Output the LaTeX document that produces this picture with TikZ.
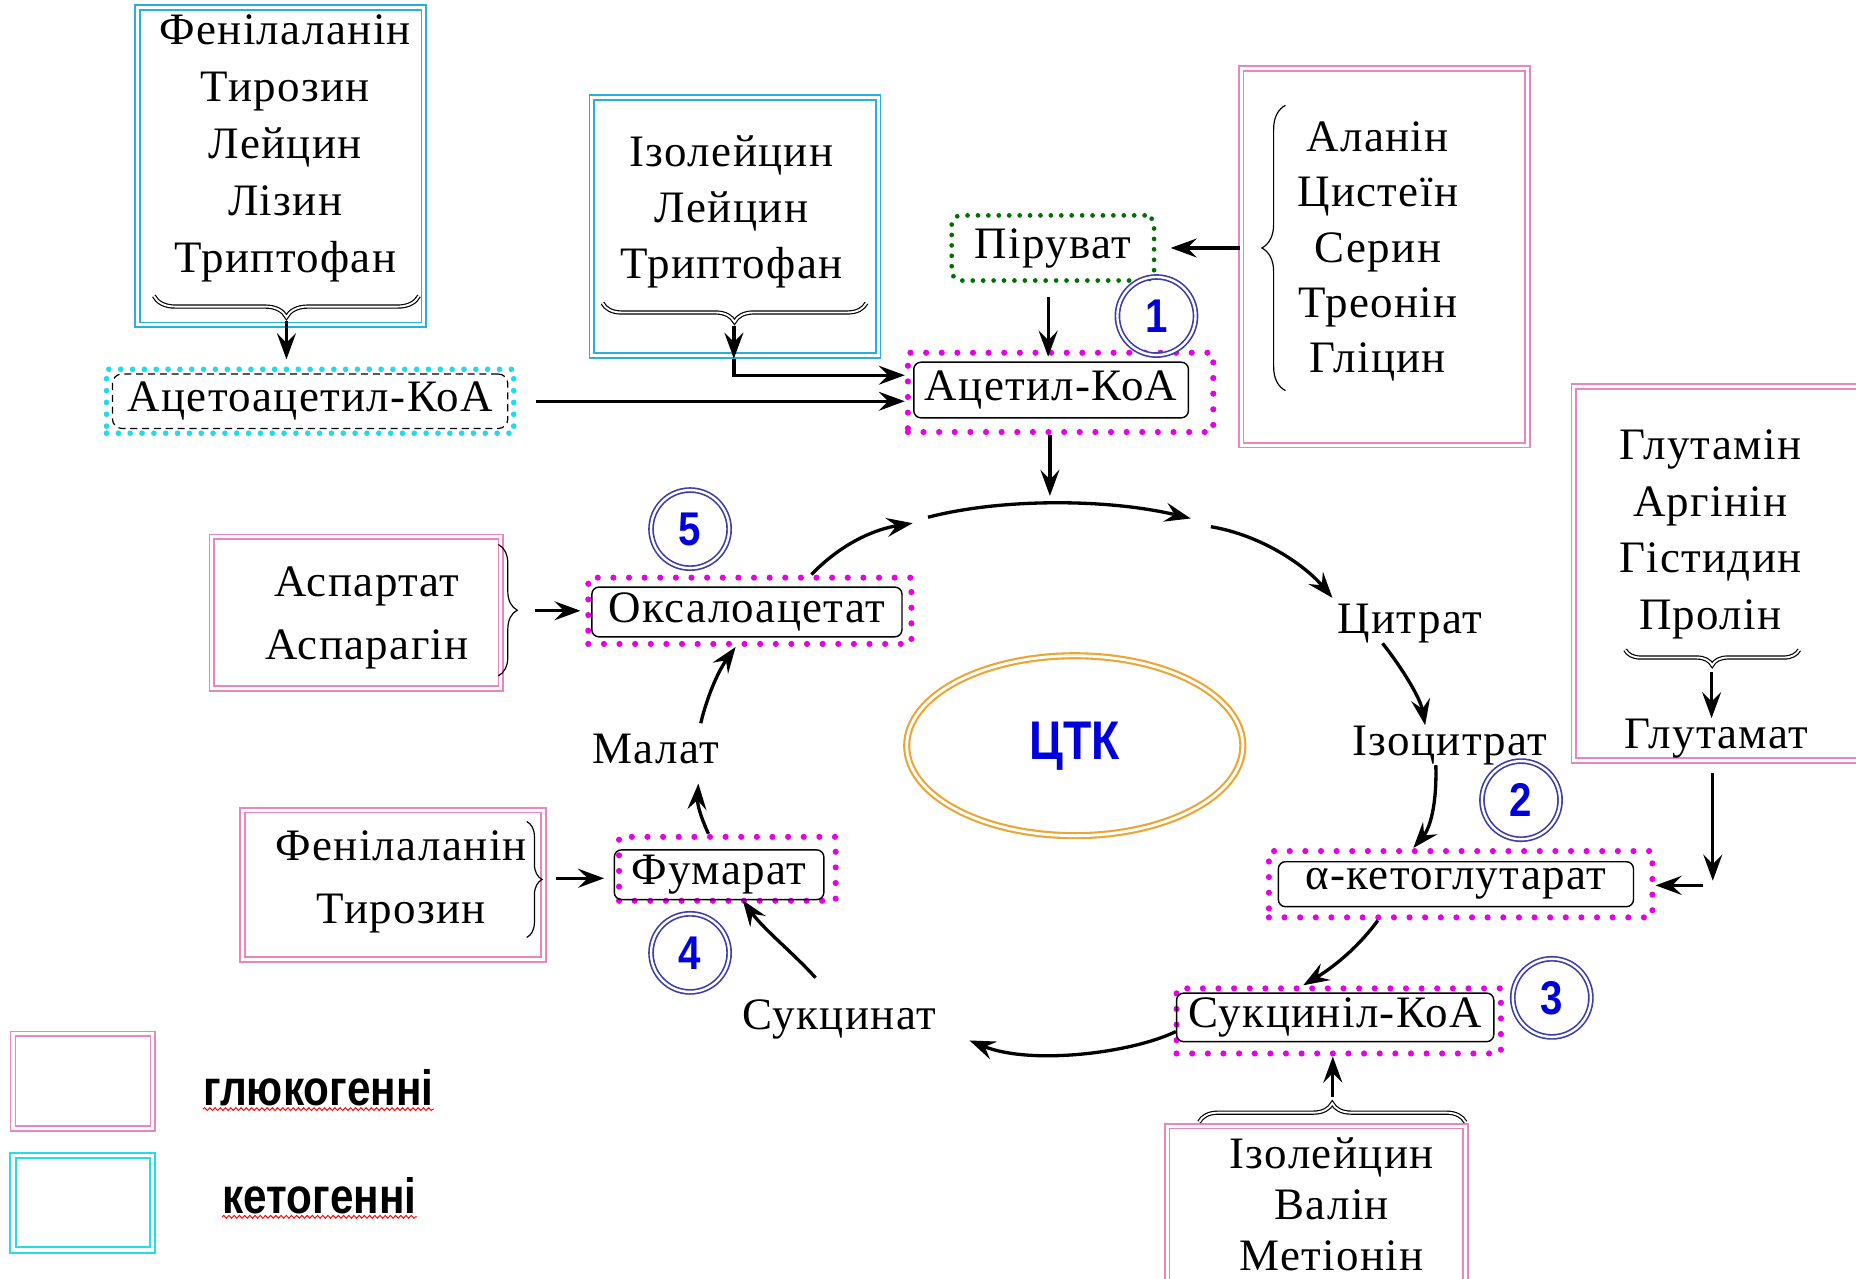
\documentclass[tikz,border=0pt]{standalone}
\usepackage{fontspec}
\newfontfamily\lblfont[LetterSpace=3]{Liberation Serif}
\newfontfamily\legfont[FakeStretch=0.85]{Liberation Sans}
\usetikzlibrary{arrows.meta}
\usetikzlibrary{decorations.pathreplacing,decorations.pathmorphing}
\usetikzlibrary{shapes.geometric}
\definecolor{pinkline}{RGB}{232,135,190}
\definecolor{ketoline}{RGB}{40,175,220}
\definecolor{legcyan}{RGB}{40,220,230}
\definecolor{dotmag}{RGB}{230,0,230}
\definecolor{dotgreen}{RGB}{0,110,0}
\definecolor{dotcyan}{RGB}{30,220,235}
\definecolor{ringorange}{RGB}{235,165,50}
\definecolor{circblue}{RGB}{60,60,170}
\definecolor{numblue}{RGB}{0,0,220}
\tikzset{amino/.style={anchor=base, inner sep=0pt,
font=\lblfont\fontsize{19pt}{24pt}\selectfont}}
\tikzset{metab/.style={rectangle, rounded corners=3pt, draw=black, line width=0.6pt,
inner sep=0pt, font=\lblfont\fontsize{19pt}{24pt}\selectfont}}
\tikzset{metabframe/.style={rectangle, draw=dotmag, line width=2.6pt,
line cap=round, dash pattern=on 0pt off 6.6pt}}
\tikzset{pyrbox/.style={rectangle, rounded corners=4pt, draw=dotgreen, line width=2pt,
line cap=round, dash pattern=on 0pt off 4.4pt, inner sep=0pt,
font=\lblfont\fontsize{19pt}{24pt}\selectfont}}
\tikzset{acacbox/.style={rectangle, rounded corners=4pt, draw=black, line width=0.5pt,
dash pattern=on 3pt off 2pt, inner sep=0pt, font=\lblfont\fontsize{19pt}{24pt}\selectfont}}
\tikzset{acacframe/.style={rectangle, draw=dotcyan, line width=2.4pt,
line cap=round, dash pattern=on 0pt off 5pt}}
\tikzset{glucobox/.style={rectangle, draw=pinkline, double=white, double distance=1.3pt, line width=0.7pt}}
\tikzset{ketobox/.style={rectangle, draw=ketoline, double=white, double distance=1.3pt, line width=0.7pt}}
\tikzset{legketo/.style={rectangle, draw=legcyan, double=white, double distance=1.3pt, line width=0.9pt}}
\tikzset{stage/.style={circle, draw=circblue, double=white, double distance=1pt, line width=0.7pt,
minimum size=33pt, inner sep=0pt, text=numblue, font=\legfont\bfseries\fontsize{20pt}{20pt}\selectfont}}
\tikzset{curly/.style={decorate, decoration={brace, amplitude=#1}, line width=0.5pt}}
\tikzset{hollowcurly/.style={curly=#1, double=white, double distance=0.8pt}}
\tikzset{arr/.style={line width=1.4pt, -{Stealth[length=11pt, width=8pt, inset=4pt]}}}
\tikzset{legend/.style={anchor=base, inner sep=0pt, font=\legfont\bfseries\fontsize{21pt}{24pt}\selectfont}}
\tikzset{spellmark/.style={draw=red, line width=0.4pt, decorate,
decoration={snake, amplitude=0.6pt, segment length=2.2pt}}}

\begin{document}
\begin{tikzpicture}[x=0.5pt, y=-0.5pt]
        \clip (0,0) rectangle (1568,1080);

        \node[ketobox, minimum width=121pt, minimum height=134pt] (ketoAbox) at (237,140.5) {};
        \foreach \t [count=\i] in {Фенілаланін,Тирозин,Лейцин,Лізин,Триптофан}
            \node[amino] (ketoA\i) at (241,{38+48*(\i-1)}) {\t};
        \draw[hollowcurly=9pt] (354,250) -- (130,250);
        \coordinate (ketoAtip) at (242,271);

        \node[ketobox, minimum width=121pt, minimum height=109pt] (ketoBbox) at (621,191.5) {};
        \foreach \t [count=\i] in {Ізолейцин,Лейцин,Триптофан}
            \node[amino] (ketoB\i) at (618,{141+47*(\i-1)}) {\t};
        \draw[hollowcurly=8pt] (732,256) -- (509,256);
        \coordinate (ketoBtip) at (620,275);
        \coordinate (ketoBend) at (620,303);
        \coordinate (ketoBknee) at (620,317);

        \node[acacframe, minimum width=172pt, minimum height=27pt] (acacframe) at (262,339) {};
        \node[acacbox, minimum width=167pt, minimum height=23pt] (acac) at (262,339) {Ацетоацетил-КоА};

        \node[metabframe, minimum width=129pt, minimum height=33.5pt] (acetylframe) at (896,331.5) {};
        \node[metab, minimum width=116pt, minimum height=23.5pt] (acetyl) at (888,329.5) {Ацетил-КоА};

        \node[pyrbox, minimum width=85.5pt, minimum height=27.5pt] (pyr) at (889.5,209.5) {Піруват};

        \node[glucobox, minimum width=121pt, minimum height=159pt] (alabox) at (1169.5,217) {};
        \foreach \t [count=\i] in {Аланін,Цистеїн,Серин,Треонін,Гліцин}
            \node[amino] (ala\i) at (1164,{128+46.75*(\i-1)}) {\t};
        \draw[curly=10pt] (1086,330) -- (1086,89);

        \node[glucobox, minimum width=134pt, minimum height=158pt] (glnbox) at (1463.5,484.5) {};
        \foreach \t [count=\i] in {Глутамін,Аргінін,Гістидин,Пролін}
            \node[amino] (gln\i) at (1445,{388+48*(\i-1)}) {\t};
        \draw[hollowcurly=6.5pt] (1520,549) -- (1373,549);
        \coordinate (glntip) at (1446,564);
        \node[amino] (glu) at (1450,632) {Глутамат};
        \coordinate (gluknee) at (1447,748);

        \node[glucobox, minimum width=122pt, minimum height=64pt] (aspbox) at (301,517.5) {};
        \foreach \t [count=\i] in {Аспартат,Аспарагін}
            \node[amino] (asp\i) at (310,{504+53*(\i-1)}) {\t};
        \draw[curly=8pt] (421,460) -- (421,571);
        \coordinate (asptip) at (440,516);

        \node[glucobox, minimum width=127pt, minimum height=63pt] (phebox) at (332,747.5) {};
        \foreach \t [count=\i] in {Фенілаланін,Тирозин}
            \node[amino] (phe\i) at (339,{727+53*(\i-1)}) {\t};
        \draw[curly=6.5pt] (445,694) -- (445,792);
        \coordinate (phetip) at (460,742);

        \node[glucobox, minimum width=126pt, minimum height=73pt] (botbox) at (1112,1024.5) {};
        \foreach \t [count=\i] in {Ізолейцин,Валін,Метіонін}
            \node[amino] (bot\i) at (1125,{987+43*(\i-1)}) {\t};
        \draw[hollowcurly=8pt] (1013,948) -- (1238,948);
        \coordinate (bottip) at (1126,929);

        \node[metabframe, minimum width=136.5pt, minimum height=28pt] (oxaframe) at (633.5,516) {};
        \node[metab, minimum width=131pt, minimum height=21pt] (oxa) at (631,517) {Оксалоацетат};
        \node[metabframe, minimum width=91.5pt, minimum height=27pt] (fumframe) at (614.5,734) {};
        \node[metab, minimum width=88.5pt, minimum height=21pt] (fum) at (607.5,739) {Фумарат};
        \node[metabframe, minimum width=162pt, minimum height=28pt] (akgframe) at (1234,747) {};
        \node[metab, minimum width=150pt, minimum height=19pt] (akg) at (1230,747) {α-кетоглутарат};
        \node[metabframe, minimum width=137pt, minimum height=27.5pt] (sucframe) at (1131,862.5) {};
        \node[metab, minimum width=134pt, minimum height=20.5pt] (suc) at (1128,859.5) {Сукциніл-КоА};

        \node[amino] (citrate) at (1191,535) {Цитрат};
        \node[amino] (isocit) at (1225,638) {Ізоцитрат};
        \node[amino] (malate) at (554,645) {Малат};
        \node[amino] (succinate) at (709,870) {Сукцинат};

        \node[ellipse, draw=ringorange, double=white, double distance=1.2pt, line width=0.9pt,
            minimum width=142pt, minimum height=76pt, text=numblue,
            font=\legfont\bfseries\fontsize{23pt}{23pt}\selectfont] (ctk) at (908,630) {ЦТК};

        \node[stage] (stage1) at (977,267) {1};
        \node[stage] (stage2) at (1285,676) {2};
        \node[stage] (stage3) at (1311,843) {3};
        \node[stage] (stage4) at (583,805) {4};
        \node[stage] (stage5) at (583,447) {5};

        \coordinate (cyctop) at (887,419);
        \coordinate (cycA) at (771,442);
        \coordinate (cycB1) at (784,437);
        \coordinate (cycB2) at (1006,438);
        \coordinate (cycC1) at (1023,445);
        \coordinate (cycH) at (689,826);
        \coordinate (cycI) at (590,662);
        \coordinate (cycJ) at (592,611);
        \coordinate (sucarrow) at (819,879);

        \draw[arr, shorten >=3pt] (ketoAtip) -- (ketoAtip |- acacframe.north);
        \draw[arr] (ketoBtip) -- (ketoBend);
        \draw[arr] (ketoBend) -- (ketoBknee) -- (ketoBknee -| acetylframe.west);
        \draw[arr, shorten <=8pt] (acacframe.east) -- (acacframe.east -| acetylframe.west);
        \draw[arr, shorten >=6pt] (alabox.west |- pyr.east) -- (pyr.east);
        \draw[arr, shorten <=6pt, shorten >=2pt] ([xshift=-2pt]pyr.south) -- ([xshift=-2pt]pyr.south |- acetyl.north);
        \draw[arr] (cyctop |- acetylframe.south) -- (cyctop);

        \draw[arr] ([xshift=26pt]oxaframe.north) .. controls (712,458) and (740,447) .. (cycA);
        \draw[arr] (cycB1) .. controls (845,421) and (935,421) .. (cycB2);
        \draw[arr, shorten >=3pt] (cycC1) .. controls (1065,452) and (1102,477) .. (citrate.north west);
        \draw[arr] ([xshift=-11.5pt]citrate.south) .. controls (1185,565) and (1200,590) .. ([xshift=-10.5pt]isocit.north);
        \draw[arr] ([xshift=-6pt]isocit.south) .. controls (1214,680) and (1208,700) .. ([xshift=-20pt]akgframe.north);
        \draw[arr] ([xshift=-35pt]akgframe.south) .. controls (1150,797) and (1130,815) .. ([xshift=-15pt]sucframe.north);
        \draw[arr] ([yshift=-6pt]suc.west) .. controls (955,890) and (870,900) .. (sucarrow);
        \draw[arr] (cycH) .. controls (670,805) and (645,785) .. ([xshift=10pt]fum.south);
        \draw[arr] ([xshift=-8pt]fumframe.north) .. controls (592,690) and (589,680) .. (cycI);
        \draw[arr] (cycJ) .. controls (597,590) and (606,568) .. ([xshift=-6pt]oxaframe.south);

        \draw[arr, shorten <=6pt, shorten >=2pt] (asptip) -- (asptip -| oxaframe.west);
        \draw[arr, shorten <=5pt, shorten >=4pt] (phetip) -- (phetip -| fum.west);
        \draw[arr, shorten <=2pt] (glntip) -- (glntip |- glu.north);
        \draw[arr, shorten <=5pt, shorten >=2pt] (glnbox.south -| gluknee) -- (gluknee);
        \draw[arr, shorten <=4pt] (gluknee) -- (gluknee -| akgframe.east);
        \draw[arr, shorten <=1pt] (bottip) -- (bottip |- sucframe.south);

        \node[glucobox, minimum width=59pt, minimum height=40pt] (legglu) at (70,913.5) {};
        \node[legketo, minimum width=59pt, minimum height=40pt] (legket) at (70,1016) {};
        \node[legend] (glucotext) at (269,934) {глюкогенні};
        \node[legend] (ketotext) at (270,1025) {кетогенні};
        \path[spellmark] ([yshift=-1.5pt]glucotext.base west) -- ([yshift=-1.5pt]glucotext.base east);
        \path[spellmark] ([yshift=-1.5pt]ketotext.base west) -- ([yshift=-1.5pt]ketotext.base east);

    \end{tikzpicture}
\end{document}
